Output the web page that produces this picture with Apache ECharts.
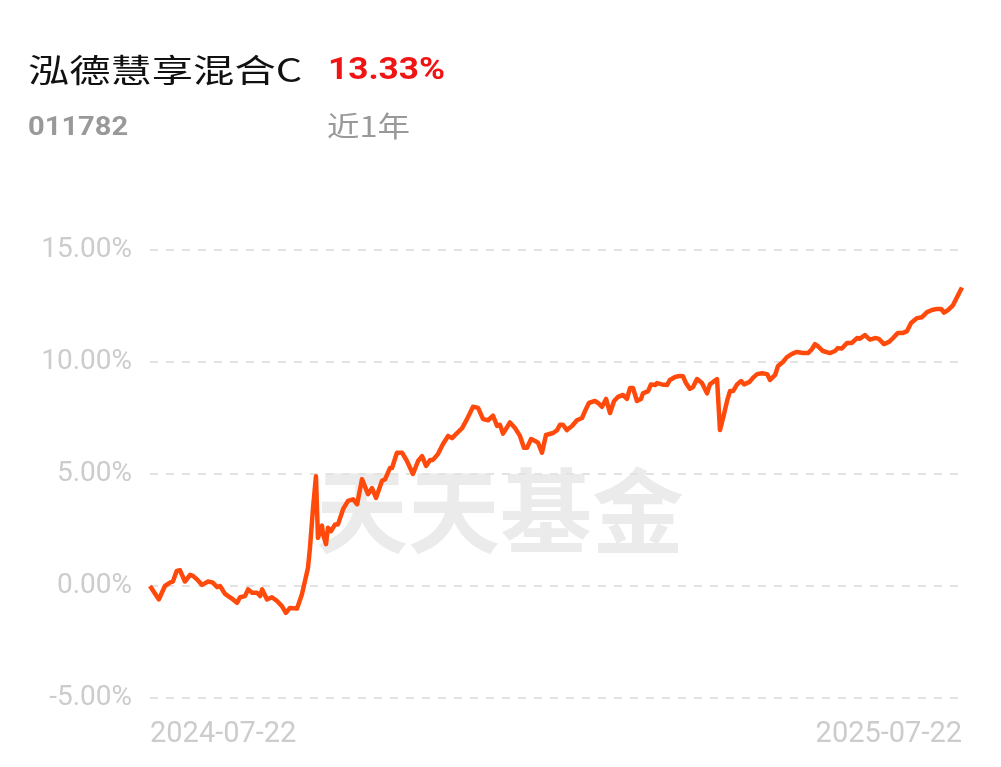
<!DOCTYPE html>
<html>
<head>
<meta charset="utf-8">
<script src="https://cdn.jsdelivr.net/npm/echarts@6/dist/echarts.min.js"></script>
<style>
html,body{margin:0;padding:0;background:#fff;}
#chart{width:1001px;height:767px;}
</style>
</head>
<body>
<div id="chart"></div>
<script>
// ---- data ----
const fundName = '泓德慧享混合C';
const fundCode = '011782';
const periodReturn = '13.33%';
const periodLabel = '近1年';
const watermarkText = '天天基金';
const xLabels = ['2024-07-22', '2025-07-22'];
const yTicks = [-5, 0, 5, 10, 15];
// day offsets from 2024-07-22
const dayOffsets = [
  0, 4.0, 6.7, 9.0, 10.3, 12.0, 13.5, 15.7, 18.0, 19.3,
  21.6, 23.4, 26.1, 28.3, 30.1, 31.5, 33.7, 37.3, 39.1, 40.5,
  42.7, 44.1, 45.9, 48.1, 49.5, 50.4, 52.6, 54.8, 57.1, 59.3,
  61.1, 62.9, 66.1, 68.3, 71.0, 71.9, 73.3, 74.6, 75.5, 77.3,
  77.8, 79.1, 80.0, 81.4, 83.2, 84.5, 86.8, 89.0, 91.3, 93.1,
  95.3, 98.0, 99.8, 101.6, 104.3, 105.7, 107.9, 108.8, 111.0, 113.3,
  115.5, 118.2, 120.5, 122.3, 124.1, 125.9, 127.2, 129.5, 131.7, 134.0,
  135.8, 138.0, 140.3, 142.5, 145.2, 147.5, 149.7, 152.0, 154.2, 156.0,
  157.3, 158.7, 161.8, 164.1, 166.3, 168.1, 169.5, 171.3, 173.1, 174.4,
  176.2, 178.0, 181.2, 183.0, 184.3, 185.6, 187.4, 189.7, 191.9, 194.2,
  195.5, 197.3, 200.0, 201.4, 203.2, 205.0, 206.8, 208.6, 210.4, 212.6,
  214.4, 215.8, 217.1, 218.9, 220.7, 221.6, 223.9, 225.2, 227.0, 227.9,
  230.1, 232.4, 233.7, 236.0, 238.2, 239.6, 240.9, 242.7, 244.1, 245.9,
  248.1, 250.4, 251.7, 254.9, 256.2, 257.6, 259.4, 260.7, 262.1,
  263.9, 265.7, 267.0, 269.3, 271.1, 272.9, 275.1, 277.4, 278.7, 281.0,
  282.3, 284.5, 286.3, 288.6, 290.8, 293.5, 295.8, 297.6, 298.9, 300.3,
  302.5, 305.6, 307.9, 309.2, 311.0, 313.3, 315.5, 317.8, 319.1, 321.4,
  323.6, 325.9, 327.7, 329.9, 332.2, 334.0, 336.2, 338.5, 340.3, 342.1,
  344.8, 347.0, 349.3, 351.5, 353.8, 355.6, 356.9, 358.7, 361.0, 362.8,
  365
];
// cumulative return (%)
const returns = [
  0.0, -0.6, 0.0, 0.15, 0.2, 0.67, 0.7, 0.2, 0.5, 0.45,
  0.25, 0.05, 0.2, 0.15, -0.05, 0.0, -0.35, -0.6, -0.75, -0.5,
  -0.45, -0.15, -0.3, -0.3, -0.45, -0.15, -0.6, -0.5, -0.67, -0.9,
  -1.2, -0.98, -1.0, -0.37, 0.8, 1.7, 3.5, 4.9, 2.15, 2.7,
  2.3, 1.87, 2.6, 2.45, 2.75, 2.75, 3.43, 3.8, 3.87, 3.65,
  4.77, 4.1, 4.37, 3.93, 4.7, 4.77, 5.27, 5.27, 5.95, 5.95,
  5.58, 5.0, 5.58, 5.8, 5.36, 5.63, 5.63, 5.9, 6.34, 6.7,
  6.6, 6.83, 7.05, 7.45, 8.0, 7.95, 7.45, 7.4, 7.6, 7.15,
  7.2, 6.8, 7.3, 7.05, 6.7, 6.17, 6.17, 6.56, 6.47, 6.4,
  5.95, 6.74, 6.83, 6.96, 7.2, 7.2, 6.96, 7.14, 7.4, 7.5,
  7.8, 8.17, 8.26, 8.17, 8.0, 8.35, 7.72, 8.26, 8.44, 8.53,
  8.35, 8.84, 8.84, 8.26, 8.35, 8.6, 8.7, 9.0, 8.97, 9.06,
  9.0, 8.97, 9.2, 9.33, 9.38, 9.36, 9.06, 8.8, 8.88, 9.24,
  9.06, 8.6, 9.0, 9.24, 6.96, 7.5, 8.26, 8.7, 8.7,
  9.0, 9.15, 9.0, 9.1, 9.3, 9.46, 9.5, 9.46, 9.2, 9.42,
  9.82, 10.0, 10.22, 10.36, 10.45, 10.4, 10.4, 10.58, 10.8, 10.7,
  10.49, 10.4, 10.49, 10.62, 10.6, 10.85, 10.85, 11.07, 11.04, 11.2,
  11.0, 11.07, 11.03, 10.8, 10.9, 11.07, 11.3, 11.3, 11.38, 11.74,
  11.96, 12.0, 12.23, 12.32, 12.37, 12.37, 12.2, 12.32, 12.54, 12.9,
  13.33
];

const seriesData = dayOffsets.map((d, i) => [d, returns[i]]);
const lastDay = 365;

const chart = echarts.init(document.getElementById('chart'));
chart.setOption({
  backgroundColor: '#ffffff',
  animation: false,
  grid: { left: 150, right: 39, top: 250, bottom: 69 },
  graphic: [
    {
      type: 'text', x: 28, y: 70, scaleX: 1.29, z: 10,
      style: { text: fundName, fontSize: 32, fontFamily: 'Noto Sans CJK SC', fill: '#111111', textVerticalAlign: 'middle' }
    },
    {
      type: 'text', x: 328, y: 71, scaleX: 1.1, z: 10,
      style: { text: periodReturn, fontSize: 32, fontWeight: 'bold', fontFamily: 'Roboto', fill: '#f01414', textVerticalAlign: 'middle' }
    },
    {
      type: 'text', x: 28, y: 128, scaleX: 1.12, z: 10,
      style: { text: fundCode, fontSize: 26, fontWeight: 'bold', fontFamily: 'Roboto', fill: '#999999', textVerticalAlign: 'middle' }
    },
    {
      type: 'text', x: 327, y: 126, scaleX: 1.16, z: 10,
      style: { text: periodLabel, fontSize: 28, fontFamily: 'Noto Sans CJK SC', fill: '#999999', textVerticalAlign: 'middle' }
    },
    {
      type: 'text', x: 500, y: 511, z: -1,
      style: { text: watermarkText, fontSize: 92, fontWeight: 'bold', fontFamily: 'Noto Sans CJK SC', fill: '#ebebeb', textAlign: 'center', textVerticalAlign: 'middle' }
    }
  ],
  xAxis: {
    type: 'value',
    min: 0, max: lastDay, interval: lastDay,
    axisLine: { show: false },
    axisTick: { show: false },
    splitLine: { show: false },
    axisLabel: {
      margin: 22,
      color: '#cccccc', fontSize: 29, fontFamily: 'Roboto',
      alignMinLabel: 'left', alignMaxLabel: 'right',
      formatter: v => (v === 0 ? xLabels[0] : (v === lastDay ? xLabels[1] : ''))
    }
  },
  yAxis: {
    type: 'value',
    min: yTicks[0], max: yTicks[yTicks.length - 1], interval: 5,
    axisLine: { show: false },
    axisTick: { show: false },
    axisLabel: {
      margin: 18, color: '#cccccc', fontSize: 28, fontFamily: 'Roboto',
      formatter: v => v.toFixed(2) + '%'
    },
    splitLine: { lineStyle: { color: '#e3e3e3', width: 2, type: [8, 8] } }
  },
  series: [{
    type: 'line',
    data: seriesData,
    showSymbol: false,
    smooth: false,
    z: 5,
    lineStyle: { color: '#ff4a0b', width: 4.5, join: 'round' }
  }]
});
</script>
</body>
</html>
